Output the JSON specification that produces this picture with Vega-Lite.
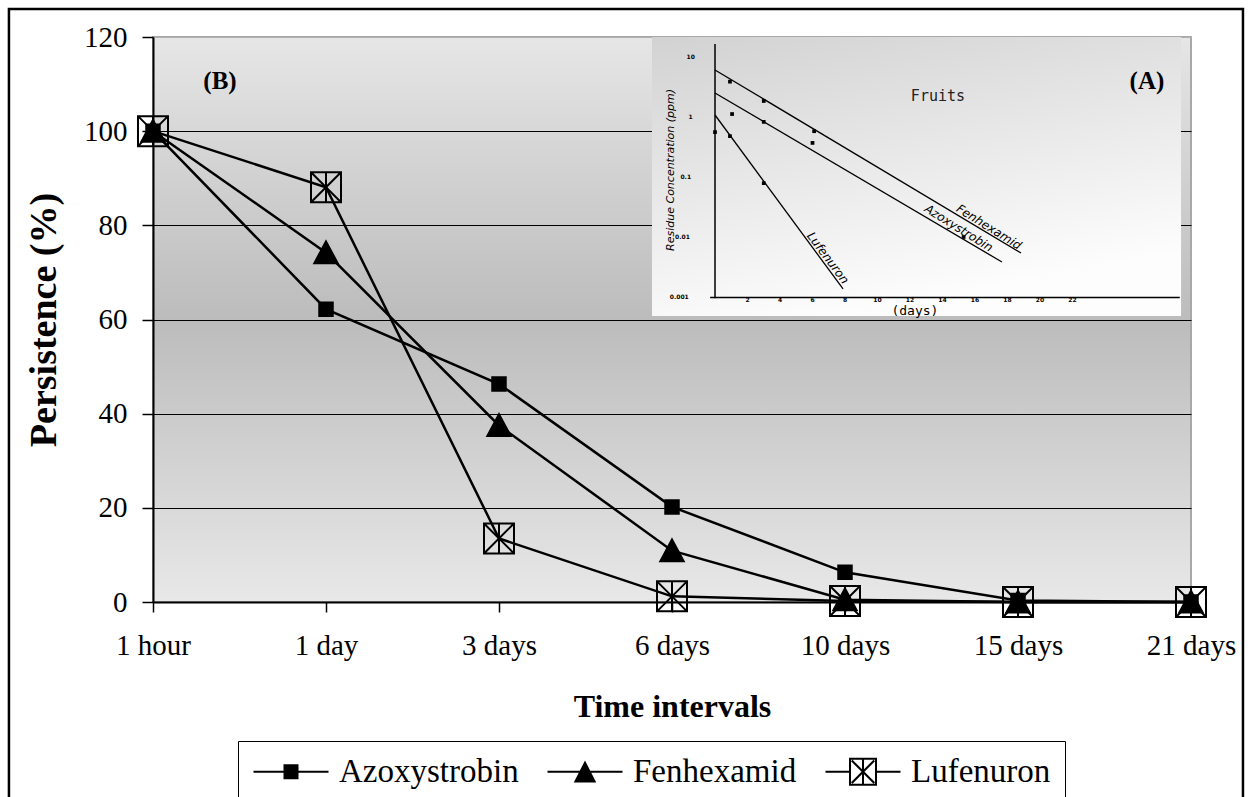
{
  "$schema": "https://vega.github.io/schema/vega-lite/v6.json",
  "width": 1038,
  "height": 565,
  "autosize": {"type": "none"},
  "padding": {"left": 153, "top": 37, "right": 60, "bottom": 195},
  "background": "white",
  "config": {
    "font": "Liberation Serif",
    "legend": {"labelFont": "Liberation Serif"},
    "view": {
      "fill": {"gradient": "linear", "x1": 0, "y1": 0, "x2": 0, "y2": 1,
        "stops": [{"offset": 0, "color": "#e6e6e6"}, {"offset": 0.5, "color": "#bcbcbc"}, {"offset": 1, "color": "#e8e8e8"}]},
      "stroke": "#a8a8a8",
      "strokeWidth": 2
    }
  },
  "datasets": {
    "persist": [
      {"series": "Lufenuron", "time": "1 hour", "t": 0, "value": 100},
      {"series": "Lufenuron", "time": "1 day", "t": 1, "value": 88.1},
      {"series": "Lufenuron", "time": "3 days", "t": 2, "value": 13.5},
      {"series": "Lufenuron", "time": "6 days", "t": 3, "value": 1.2},
      {"series": "Lufenuron", "time": "10 days", "t": 4, "value": 0.2},
      {"series": "Lufenuron", "time": "15 days", "t": 5, "value": 0},
      {"series": "Lufenuron", "time": "21 days", "t": 6, "value": 0},
      {"series": "Azoxystrobin", "time": "1 hour", "t": 0, "value": 100},
      {"series": "Azoxystrobin", "time": "1 day", "t": 1, "value": 62.2},
      {"series": "Azoxystrobin", "time": "3 days", "t": 2, "value": 46.3},
      {"series": "Azoxystrobin", "time": "6 days", "t": 3, "value": 20.2},
      {"series": "Azoxystrobin", "time": "10 days", "t": 4, "value": 6.3},
      {"series": "Azoxystrobin", "time": "15 days", "t": 5, "value": 0.3},
      {"series": "Azoxystrobin", "time": "21 days", "t": 6, "value": 0},
      {"series": "Fenhexamid", "time": "1 hour", "t": 0, "value": 100},
      {"series": "Fenhexamid", "time": "1 day", "t": 1, "value": 74.2},
      {"series": "Fenhexamid", "time": "3 days", "t": 2, "value": 37.5},
      {"series": "Fenhexamid", "time": "6 days", "t": 3, "value": 10.9},
      {"series": "Fenhexamid", "time": "10 days", "t": 4, "value": 0.5},
      {"series": "Fenhexamid", "time": "15 days", "t": 5, "value": 0},
      {"series": "Fenhexamid", "time": "21 days", "t": 6, "value": 0}
    ],
    "insetBox": [
      {"part": "panel", "d": -3.877, "d2": 28.68, "v": 0.0004825, "v2": 21.544},
      {"part": "frame", "d": -43.45, "d2": 32.49, "v": 1.92e-12, "v2": 63.1}
    ],
    "insetAxes": [
      {"part": "yaxis", "d": 0, "d2": 0, "v": 0.00095, "v2": 16.5},
      {"part": "xaxis", "d": -0.3, "d2": 28.6, "v": 0.00098, "v2": 0.00098}
    ],
    "insetLines": [
      {"name": "Fenhexamid", "d": 0, "v": 6.07},
      {"name": "Fenhexamid", "d": 18.83, "v": 0.0054},
      {"name": "Azoxystrobin", "d": 0, "v": 2.51},
      {"name": "Azoxystrobin", "d": 17.66, "v": 0.00383},
      {"name": "Lufenuron", "d": 0, "v": 1.08},
      {"name": "Lufenuron", "d": 7.88, "v": 0.00136}
    ],
    "insetPts": [
      {"name": "Fenhexamid", "d": 0.92, "v": 3.88},
      {"name": "Fenhexamid", "d": 3.0, "v": 1.85},
      {"name": "Fenhexamid", "d": 6.1, "v": 0.58},
      {"name": "Azoxystrobin", "d": 1.05, "v": 1.12},
      {"name": "Azoxystrobin", "d": 3.0, "v": 0.83},
      {"name": "Azoxystrobin", "d": 6.0, "v": 0.37},
      {"name": "Azoxystrobin", "d": 15.3, "v": 0.01},
      {"name": "Lufenuron", "d": 0, "v": 0.56},
      {"name": "Lufenuron", "d": 0.92, "v": 0.48},
      {"name": "Lufenuron", "d": 3.0, "v": 0.079}
    ],
    "insetText": [
      {"grp": "panel", "label": "(A)", "d": 26.58, "v": 3.98},
      {"grp": "panel", "label": "(B)", "d": -30.46, "v": 3.98},
      {"grp": "fruits", "label": "Fruits", "d": 13.72, "v": 2.24},
      {"grp": "steep", "label": "Fenhexamid", "d": 16.86, "v": 0.0147},
      {"grp": "steep", "label": "Azoxystrobin", "d": 15.0, "v": 0.0141},
      {"grp": "steeper", "label": "Lufenuron", "d": 6.95, "v": 0.00447},
      {"grp": "ytitle", "label": "Residue Concentration (ppm)", "d": -2.71, "v": 0.131},
      {"grp": "xtitle", "label": "(days)", "d": 12.3, "v": 0.00058},
      {"grp": "ytick", "label": "10", "d": -1.5, "v": 10},
      {"grp": "ytick", "label": "1", "d": -1.5, "v": 1},
      {"grp": "ytick", "label": "0.1", "d": -1.8, "v": 0.1},
      {"grp": "ytick", "label": "0.01", "d": -2.0, "v": 0.01},
      {"grp": "ytick", "label": "0.001", "d": -2.2, "v": 0.001},
      {"grp": "xtick", "label": "2", "d": 2, "v": 0.00088},
      {"grp": "xtick", "label": "4", "d": 4, "v": 0.00088},
      {"grp": "xtick", "label": "6", "d": 6, "v": 0.00088},
      {"grp": "xtick", "label": "8", "d": 8, "v": 0.00088},
      {"grp": "xtick", "label": "10", "d": 10, "v": 0.00088},
      {"grp": "xtick", "label": "12", "d": 12, "v": 0.00088},
      {"grp": "xtick", "label": "14", "d": 14, "v": 0.00088},
      {"grp": "xtick", "label": "16", "d": 16, "v": 0.00088},
      {"grp": "xtick", "label": "18", "d": 18, "v": 0.00088},
      {"grp": "xtick", "label": "20", "d": 20, "v": 0.00088},
      {"grp": "xtick", "label": "22", "d": 22, "v": 0.00088}
    ]
  },
  "layer": [
    {
      "data": {"name": "persist"},
      "encoding": {
        "x": {
          "field": "time", "type": "ordinal",
          "sort": ["1 hour", "1 day", "3 days", "6 days", "10 days", "15 days", "21 days"],
          "scale": {"type": "point", "padding": 0},
          "axis": {
            "title": "Time intervals", "labelAngle": 0, "labelFont": "Liberation Serif", "labelFontSize": 29,
            "labelColor": "black", "labelPadding": 19, "tickSize": 10, "tickColor": "black", "tickWidth": 1.5,
            "domainColor": "black", "domainWidth": 2, "titleFont": "Liberation Serif", "titleFontSize": 32,
            "titleFontWeight": "bold", "titleColor": "black", "titlePadding": 31, "grid": false
          }
        },
        "y": {
          "field": "value", "type": "quantitative",
          "scale": {"domain": [0, 120], "nice": false},
          "axis": {
            "title": "Persistence (%)", "values": [0, 20, 40, 60, 80, 100, 120],
            "labelFont": "Liberation Serif", "labelFontSize": 29, "labelColor": "black", "labelPadding": 15,
            "tickSize": 11, "tickColor": "black", "tickWidth": 1.5, "domainColor": "black", "domainWidth": 2,
            "titleFont": "Liberation Serif", "titleFontSize": 38, "titleFontWeight": "bold", "titleColor": "black",
            "titlePadding": 20, "grid": true,
            "gridColor": {"condition": {"test": "datum.value === 120", "value": "#b0b0b0"}, "value": "black"},
            "gridWidth": 1.2
          }
        }
      },
      "layer": [
        {
          "mark": {"type": "line", "stroke": "black", "strokeWidth": 2.5},
          "encoding": {"detail": {"field": "series"}, "order": {"field": "t"}}
        },
        {
          "mark": {"type": "point", "stroke": "black", "strokeWidth": 2, "opacity": 1, "size": 900},
          "encoding": {
            "shape": {
              "field": "series", "type": "nominal",
              "scale": {
                "domain": ["Azoxystrobin", "Fenhexamid", "Lufenuron"],
                "range": ["M-0.45,-0.45H0.45V0.45H-0.45Z", "M0,-0.75L0.78,0.7H-0.78Z", "M-1,-1H1V1H-1ZM-1,-1L1,1M1,-1L-1,1M0,-1V1"]
              },
              "legend": null
            },
            "fill": {
              "field": "series", "type": "nominal",
              "scale": {"domain": ["Azoxystrobin", "Fenhexamid", "Lufenuron"], "range": ["black", "black", "transparent"]},
              "legend": null
            }
          }
        },
        {
          "transform": [{"filter": "false"}],
          "mark": {"type": "point", "filled": true, "color": "black", "opacity": 1, "size": 900, "strokeWidth": 0},
          "encoding": {
            "shape": {
              "field": "series", "type": "nominal",
              "scale": {
                "domain": ["Azoxystrobin", "Fenhexamid", "Lufenuron"],
                "range": [
                  "M-1,-0.067H4V0.067H-1ZM1,-0.5H2V0.5H1Z",
                  "M-1,-0.067H4V0.067H-1ZM1.5,-0.75L2.25,0.72H0.75Z",
                  "M-1,-0.067H0.567V0.067H-1ZM2.433,-0.067H4V0.067H2.433ZM0.567,-0.933H2.433V0.933H0.567ZM0.7,-0.8V0.8H2.3V-0.8ZM0.7,-0.7L0.8,-0.8L2.3,0.7L2.2,0.8ZM2.2,-0.8L2.3,-0.7L0.8,0.8L0.7,0.7ZM1.433,-0.8H1.567V0.8H1.433Z"
                ]
              },
              "legend": {
                "orient": "none", "legendX": 85, "legendY": 704, "direction": "horizontal", "columns": 3,
                "title": null, "padding": 14, "strokeColor": "black", "symbolSize": 900,
                "symbolFillColor": "black", "symbolStrokeWidth": 0, "symbolOpacity": 1,
                "labelFont": "Liberation Serif", "labelFontSize": 33, "labelColor": "black",
                "labelOffset": 54, "columnPadding": 27, "labelLimit": 400,
                "encode": {
                  "labels": {"font": {"value": "Liberation Serif"}, "fontSize": {"value": 33}},
                  "legend": {"strokeWidth": {"value": 2}}
                }
              }
            }
          }
        }
      ],
      "resolve": {"scale": {"shape": "independent", "fill": "independent"}}
    },
    {
      "encoding": {
        "x": {"field": "d", "type": "quantitative", "scale": {"domain": [-34.585, 29.292], "nice": false, "zero": false}, "axis": null},
        "y": {"field": "v", "type": "quantitative", "scale": {"type": "log", "domain": [8.254e-9, 21.544], "nice": false}, "axis": null}
      },
      "layer": [
        {
          "data": {"name": "insetBox"},
          "transform": [{"filter": "datum.part === 'panel'"}],
          "mark": {"type": "rect", "fill": {"gradient": "linear", "x1": 0, "y1": 0, "x2": 0.35, "y2": 1,
            "stops": [{"offset": 0, "color": "#d2d2d2"}, {"offset": 1, "color": "#fdfdfd"}]}},
          "encoding": {"x2": {"field": "d2"}, "y2": {"field": "v2"}}
        },
        {
          "data": {"name": "insetAxes"},
          "mark": {"type": "rule", "stroke": "black", "strokeWidth": 1.5},
          "encoding": {"x2": {"field": "d2"}, "y2": {"field": "v2"}}
        },
        {
          "data": {"name": "insetLines"},
          "mark": {"type": "line", "stroke": "black", "strokeWidth": 1.3},
          "encoding": {"detail": {"field": "name"}}
        },
        {
          "data": {"name": "insetPts"},
          "mark": {"type": "point", "shape": "square", "filled": true, "color": "black", "size": 14, "opacity": 1},
          "encoding": {}
        },
        {
          "data": {"name": "insetText"},
          "transform": [{"filter": "datum.grp === 'panel'"}],
          "mark": {"type": "text", "font": "Liberation Serif", "fontWeight": "bold", "fontSize": 25, "color": "black", "baseline": "middle", "align": "center"},
          "encoding": {"text": {"field": "label"}}
        },
        {
          "data": {"name": "insetText"},
          "transform": [{"filter": "datum.grp === 'fruits'"}],
          "mark": {"type": "text", "font": "DejaVu Sans Mono", "fontSize": 15, "color": "#222222", "baseline": "middle", "align": "center"},
          "encoding": {"text": {"field": "label"}}
        },
        {
          "data": {"name": "insetText"},
          "transform": [{"filter": "datum.grp === 'steep'"}],
          "mark": {"type": "text", "font": "DejaVu Sans", "fontStyle": "italic", "fontSize": 12, "angle": 32, "color": "black", "baseline": "middle", "align": "center"},
          "encoding": {"text": {"field": "label"}}
        },
        {
          "data": {"name": "insetText"},
          "transform": [{"filter": "datum.grp === 'steeper'"}],
          "mark": {"type": "text", "font": "DejaVu Sans", "fontStyle": "italic", "fontSize": 12, "angle": 53, "color": "black", "baseline": "middle", "align": "center"},
          "encoding": {"text": {"field": "label"}}
        },
        {
          "data": {"name": "insetText"},
          "transform": [{"filter": "datum.grp === 'ytitle'"}],
          "mark": {"type": "text", "font": "DejaVu Sans", "fontStyle": "italic", "fontSize": 11, "angle": 270, "color": "black", "baseline": "middle", "align": "center"},
          "encoding": {"text": {"field": "label"}}
        },
        {
          "data": {"name": "insetText"},
          "transform": [{"filter": "datum.grp === 'xtitle'"}],
          "mark": {"type": "text", "font": "DejaVu Sans Mono", "fontSize": 13, "color": "black", "baseline": "middle", "align": "center"},
          "encoding": {"text": {"field": "label"}}
        },
        {
          "data": {"name": "insetText"},
          "transform": [{"filter": "datum.grp === 'ytick' || datum.grp === 'xtick'"}],
          "mark": {"type": "text", "font": "DejaVu Sans", "fontWeight": "bold", "fontSize": 6, "color": "black", "baseline": "middle", "align": "center"},
          "encoding": {"text": {"field": "label"}}
        },
        {
          "data": {"name": "insetBox"},
          "transform": [{"filter": "datum.part === 'frame'"}],
          "mark": {"type": "rect", "fill": "white", "fillOpacity": 0, "stroke": "black", "strokeWidth": 2.5},
          "encoding": {"x2": {"field": "d2"}, "y2": {"field": "v2"}}
        }
      ]
    }
  ],
  "resolve": {"scale": {"x": "independent", "y": "independent"}, "axis": {"x": "independent", "y": "independent"}}
}
